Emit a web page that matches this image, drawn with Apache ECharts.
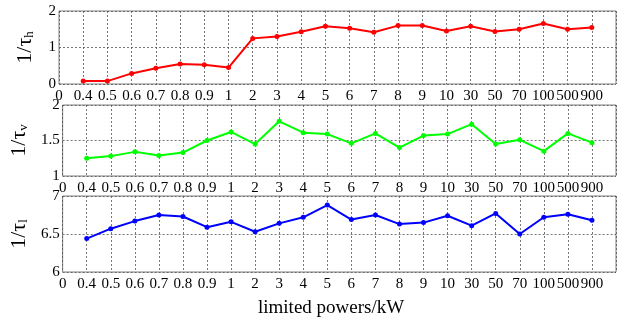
<!DOCTYPE html>
<html>
<head>
<meta charset="utf-8">
<script src="https://cdn.jsdelivr.net/npm/echarts@6/dist/echarts.min.js"></script>
<style>
html,body{margin:0;padding:0;background:#fff;}
#main{width:621px;height:322px;}
</style>
</head>
<body>
<div id="main"></div>
<script>
// Tick labels along the power axis (last slot is an unlabeled end tick)
const powerLabels = ['0','0.4','0.5','0.6','0.7','0.8','0.9','1','2','3','4','5','6','7','8','9','10','30','50','70','100','500','900',''];

// 1/tau_h
const tauH = [0.08,0.08,0.29,0.43,0.55,0.53,0.45,1.25,1.30,1.43,1.58,1.53,1.42,1.60,1.60,1.45,1.58,1.44,1.50,1.66,1.50,1.55];
// 1/tau_v
const tauV = [1.25,1.28,1.34,1.29,1.33,1.50,1.62,1.45,1.77,1.61,1.59,1.46,1.60,1.40,1.57,1.59,1.73,1.45,1.51,1.35,1.60,1.47];
// 1/tau_l
const tauL = [6.44,6.57,6.67,6.75,6.73,6.59,6.66,6.53,6.64,6.72,6.88,6.69,6.75,6.63,6.65,6.74,6.61,6.77,6.50,6.72,6.76,6.68];

const FONT = 'Liberation Serif';

const panels = [
  {data: tauH, color: '#ff0000', min: 0, max: 2, interval: 1, sub: 'h', top: 11, height: 73},
  {data: tauV, color: '#00ff00', min: 1, max: 2, interval: 0.5, sub: 'v', top: 105, height: 71},
  {data: tauL, color: '#0000ff', min: 6, max: 7, interval: 0.5, sub: 'l', top: 196, height: 76}
];

const grids = [], xAxes = [], yAxes = [], series = [];
panels.forEach((p, i) => {
  grids.push({left: 59, right: 5, top: p.top, height: p.height, show: true,
    borderColor: '#808080', borderWidth: 1, backgroundColor: '#fff'});
  xAxes.push({
    type: 'category', gridIndex: i, data: powerLabels, boundaryGap: false,
    axisLine: {show: false}, axisTick: {show: false},
    axisLabel: {interval: 0, color: '#000', fontFamily: FONT, fontSize: 15, margin: 5},
    splitLine: {show: true, interval: 0, lineStyle: {color: '#555', width: 0.8, type: [2, 2]}}
  });
  yAxes.push({
    type: 'value', gridIndex: i, min: p.min, max: p.max, interval: p.interval,
    axisLine: {show: false}, axisTick: {show: false},
    axisLabel: {color: '#000', fontFamily: FONT, fontSize: 15, margin: 3},
    splitLine: {show: true, lineStyle: {color: '#555', width: 0.8, type: [2, 2]}},
    name: '{n|1/τ}{s|' + p.sub + '}',
    nameLocation: 'middle', nameRotate: 90, nameGap: 23,
    nameTextStyle: {
      rich: {
        n: {fontFamily: FONT, fontSize: 22, color: '#000'},
        s: {fontFamily: FONT, fontSize: 13, color: '#000', verticalAlign: 'bottom', padding: [9, 0, 0, 0]}
      }
    }
  });
  series.push({
    type: 'line', xAxisIndex: i, yAxisIndex: i,
    data: [null].concat(p.data),
    color: p.color, symbol: 'circle', symbolSize: 5,
    lineStyle: {width: 2, color: p.color},
    itemStyle: {color: p.color},
    animation: false
  });
});

const chart = echarts.init(document.getElementById('main'));
chart.setOption({
  animation: false,
  grid: grids, xAxis: xAxes, yAxis: yAxes, series: series,
  graphic: [{
    type: 'text', left: 333 - 75, top: 299,
    style: {text: 'limited powers/kW', fontFamily: FONT, fontSize: 19, fill: '#000'}
  }]
});
</script>
</body>
</html>
